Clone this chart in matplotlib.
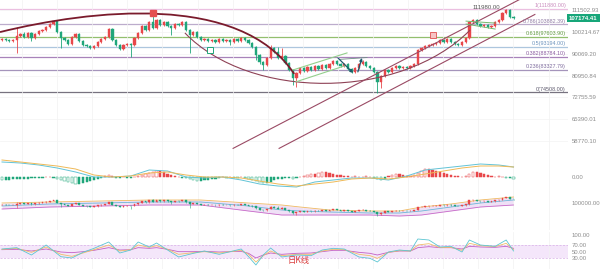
import matplotlib
matplotlib.use('Agg')
import matplotlib.pyplot as plt
import numpy as np
from matplotlib.path import Path
from matplotlib.patches import PathPatch
from matplotlib.ticker import NullLocator
import matplotlib.transforms as mtrans

# ---------------- data (prices in thousands) ----------------
opens_k = [96.3, 96.8, 96.3, 95.8, 96.3, 98.2, 99.2, 97.7, 99.7, 97.3,
           99.2, 100.6, 101.1, 102.6, 104.1, 105.6, 100.1, 97.3, 96.3, 94.5,
           97.7, 99.2, 95.8, 94.0, 93.5, 92.6, 93.5, 95.4, 96.8, 97.7,
           101.6, 96.3, 94.0, 92.2, 94.0, 94.5, 94.0, 97.3, 99.7, 103.1,
           101.1, 105.1, 102.1, 106.2, 103.6, 105.1, 103.1, 102.1, 104.1, 103.6,
           105.1, 101.1, 98.7, 100.1, 97.7, 96.3, 96.8, 95.8, 96.3, 95.4,
           96.8, 95.8, 96.3, 95.4, 96.8, 95.8, 97.3, 96.3, 94.9, 93.1,
           89.5, 86.5, 85.3, 88.2, 92.6, 90.8, 88.2, 89.1, 86.1, 83.2,
           80.0, 82.0, 84.0, 82.8, 84.4, 83.2, 84.9, 83.6, 85.3, 84.0,
           85.7, 87.0, 85.7, 84.9, 85.7, 83.6, 82.4, 84.0, 85.7, 86.5,
           84.9, 84.0, 82.4, 78.5, 80.8, 83.2, 82.4, 84.0, 84.9, 84.0,
           84.4, 84.0, 84.9, 85.7, 91.7, 92.6, 93.5, 94.0, 94.5, 94.9,
           96.3, 95.4, 96.8, 95.4, 94.5, 94.0, 95.4, 97.3, 105.1, 106.2,
           104.1, 103.1, 103.6, 102.6, 103.1, 105.1, 106.2, 109.9, 111.5, 107.7]
highs_k = [97.3, 97.4, 96.9, 96.9, 102.6, 99.8, 99.9, 100.3, 100.2, 99.8,
           101.2, 101.8, 103.2, 104.8, 106.4, 106.2, 100.8, 97.9, 96.8, 98.3,
           99.8, 99.7, 96.3, 94.6, 94.0, 94.1, 95.9, 97.3, 98.3, 102.2,
           102.0, 96.9, 94.5, 94.5, 95.1, 95.0, 97.8, 100.2, 103.7, 103.6,
           105.7, 108.3, 106.8, 106.8, 105.7, 105.6, 103.6, 104.7, 104.6, 105.7,
           105.6, 101.6, 100.6, 100.6, 98.2, 97.3, 97.3, 96.8, 96.8, 97.3,
           97.3, 96.8, 96.8, 97.3, 97.3, 97.8, 97.8, 96.8, 95.4, 93.6,
           90.0, 87.0, 88.7, 94.0, 93.1, 93.1, 92.6, 89.6, 86.6, 83.7,
           82.5, 84.5, 84.5, 84.9, 84.9, 85.4, 85.4, 85.8, 85.8, 86.2,
           87.5, 87.5, 86.2, 86.2, 86.2, 84.1, 84.5, 86.2, 87.2, 87.0,
           85.4, 84.5, 82.9, 81.3, 83.7, 83.7, 84.5, 85.4, 85.4, 84.9,
           84.9, 85.4, 86.2, 92.3, 93.2, 94.1, 94.6, 95.1, 95.5, 96.9,
           96.9, 97.4, 97.3, 95.9, 95.0, 95.9, 97.8, 105.7, 106.8, 106.7,
           104.6, 104.1, 104.1, 103.6, 105.6, 106.8, 110.5, 111.98, 111.8, 108.2]
lows_k = [95.8, 95.8, 95.2, 95.3, 90.4, 97.6, 97.1, 97.2, 95.8, 96.8,
          98.7, 100.0, 100.5, 102.0, 103.5, 99.5, 92.6, 95.6, 93.9, 94.0,
          97.1, 95.2, 93.5, 92.9, 92.0, 92.1, 93.0, 94.9, 96.2, 97.2,
          95.8, 93.5, 91.6, 91.7, 93.5, 88.6, 93.5, 96.8, 99.2, 100.5,
          100.6, 101.5, 101.6, 103.0, 103.0, 102.5, 98.7, 101.6, 103.0, 103.1,
          100.5, 90.4, 98.2, 97.2, 95.8, 95.8, 95.3, 95.3, 94.9, 94.9,
          95.3, 95.3, 94.1, 94.9, 95.3, 95.3, 95.8, 94.4, 92.6, 87.4,
          85.7, 83.2, 84.8, 87.7, 90.2, 87.6, 87.7, 85.5, 82.6, 77.3,
          76.6, 81.5, 82.3, 82.3, 82.7, 82.7, 83.1, 83.1, 83.5, 83.5,
          85.2, 85.2, 84.4, 84.4, 83.1, 81.9, 81.9, 83.5, 85.2, 84.4,
          83.5, 81.9, 74.5, 76.2, 80.3, 81.9, 81.9, 83.5, 83.5, 83.5,
          83.5, 83.5, 84.4, 85.2, 91.2, 92.1, 93.0, 93.5, 94.0, 94.4,
          94.9, 94.9, 94.9, 94.0, 93.5, 93.5, 94.9, 96.8, 104.6, 103.6,
          102.6, 102.6, 102.1, 102.1, 102.6, 104.6, 105.7, 109.3, 107.2, 106.6]
closes_k = [96.8, 96.3, 95.8, 96.3, 98.2, 99.2, 97.7, 99.7, 97.3, 99.2,
            100.6, 101.1, 102.6, 104.1, 105.6, 100.1, 97.3, 96.3, 94.5, 97.7,
            99.2, 95.8, 94.0, 93.5, 92.6, 93.5, 95.4, 96.8, 97.7, 101.6,
            96.3, 94.0, 92.2, 94.0, 94.5, 94.0, 97.3, 99.7, 103.1, 101.1,
            105.1, 102.1, 106.2, 103.6, 105.1, 103.1, 102.1, 104.1, 103.6, 105.1,
            101.1, 98.7, 100.1, 97.7, 96.3, 96.8, 95.8, 96.3, 95.4, 96.8,
            95.8, 96.3, 95.4, 96.8, 95.8, 97.3, 96.3, 94.9, 93.1, 89.5,
            86.5, 85.3, 88.2, 92.6, 90.8, 88.2, 89.1, 86.1, 83.2, 80.0,
            82.0, 84.0, 82.8, 84.4, 83.2, 84.9, 83.6, 85.3, 84.0, 85.7,
            87.0, 85.7, 84.9, 85.7, 83.6, 82.4, 84.0, 85.7, 86.5, 84.9,
            84.0, 82.4, 78.5, 80.8, 83.2, 82.4, 84.0, 84.9, 84.0, 84.4,
            84.0, 84.9, 85.7, 91.7, 92.6, 93.5, 94.0, 94.5, 94.9, 96.3,
            95.4, 96.8, 95.4, 94.5, 94.0, 95.4, 97.3, 105.1, 106.2, 104.1,
            103.1, 103.6, 102.6, 103.1, 105.1, 106.2, 109.9, 111.5, 107.7, 107.17441]

last_price = 107174.41
peak_label = '111980.00'
peak_pos = (131.5, 112700)

price_ticks = [111502.93, 100214.67, 90069.20, 80950.84, 72755.59, 65390.01, 58770.10]

fib_ratios = ['1', '0.786', '0.618', '0.5', '0.382', '0.236', '0']
fib_prices = [111880.00, 103882.39, 97603.90, 93194.00, 88784.10, 83327.79, 74508.00]
fib_line_colors = ['#ebbfe0', '#bcaccc', '#92bf6e', '#adc6de', '#a883ba', '#a594bb', '#77727f']
fib_text_colors = ['#c98bbd', '#8f7aa3', '#5f9a3e', '#6d93bd', '#8a5aa0', '#7f6c9e', '#5a566a']

# drawings (candle index, price)
arc_big_x = [-0.54, 23.9, 64.7, 79.4]
arc_big_y = [100100, 111500, 121800, 81600]
arc_low_x = [49.7, 67.4, 108.2, 127.2]
arc_low_y = [99700, 71600, 71600, 101100]
chan_a_x, chan_a_y = [62.8, 141.3], [56700, 118100]
chan_b_x, chan_b_y = [75.3, 144.8], [56700, 109100]
small_up_x, small_up_y = [79.1, 93.75], [83200, 90400]
small_lo_x, small_lo_y = [79.9, 93.2], [78500, 84900]
flat_x, flat_y = [91.8, 99.2], [87600, 88400]
wedge_up_x, wedge_up_y = [126.1, 134.0], [105600, 104600]
wedge_lo_x, wedge_lo_y = [126.1, 134.0], [104100, 101600]
arrow_down = ((91.3, 88200), (95.4, 82000))
arrow_up = ((96.7, 82400), (97.8, 88200))
mark_red = (41, 109900)
mark_pink = (117.1, 98700)
mark_green = (56.5, 91700)

# MACD
macd_x = [0, 5, 10, 15, 20, 25, 30, 35, 40, 45, 50, 55, 60, 65, 70, 75, 80, 85, 90, 95,
          100, 105, 110, 115, 120, 125, 130, 135, 139]
dea = [3400, 3000, 2600, 2200, 1600, 400, 0, 200, 800, 1000, 400, 0, 0, -200, -800, -1400,
       -1800, -1400, -1000, -400, -200, -400, 0, 600, 1200, 1800, 2200, 2200, 2000]
dif = [3000, 2800, 2400, 1800, 1000, 0, 0, 200, 1400, 1200, 0, -200, 0, -600, -1400, -1800,
       -2000, -1000, -600, -200, -200, -600, 200, 1400, 1800, 2200, 2600, 2400, 2000]
hist = [-600, -600, -600, -400, -400, -400, -400, -400, -200, -200,
        -100, -100, 100, 100, -100,
        -400, -600, -800, -1000, -1200, -1400, -1400, -1200, -1000, -800, -600, -400, -200,
        200, 400, 200,
        -200, -100, 100, -100, -100, 100,
        200, 400, 600, 800, 1000, 1200, 1200, 1000, 600, 400,
        200, 100, -100, -200,
        -400, -600, -800, -800, -600, -600, -400, -400, -200,
        100, -100, 100, -100, -200, 100, -200,
        -400, -600, -800, -1000, -1200, -1200, -1000, -600, -400,
        -400, -200, -200, -400, -200, 100,
        200, 400, 600, 600, 800, 1000, 1000, 800, 600, 400, 400, 200,
        200, 100, 200, 100, 100, 200, 100,
        -200, -400, -600, -400,
        200, 400, 600, 600, 400, 200, 200,
        400, 800, 1200, 1600, 1600, 1400, 1200, 1000, 800, 600, 400,
        200, 200, 100, 200,
        600, 1000, 1000, 800, 600, 400, 200,
        100, 200, 100, -200, -200, -400]

# BOLL
boll_x = [0, 13, 27, 40, 54, 67, 76, 81, 89, 100, 108, 114, 122, 130, 139]
boll_up = [100000, 102000, 104000, 106000, 106000, 100000, 96000, 92000, 86000, 84000,
           84000, 92000, 98000, 106000, 112000]
boll_mid = [94000, 98000, 100000, 102000, 102000, 94000, 86000, 84000, 82000, 80000,
            80000, 84000, 92000, 100000, 106000]
boll_lo = [88000, 92000, 94000, 96000, 96000, 84000, 76000, 76000, 76000, 76000,
           74000, 76000, 84000, 92000, 96000]

# RSI
rsi_x = [0, 4, 8, 12, 16, 19, 22, 25, 29, 32, 35, 37, 40, 42, 45, 48, 52, 55, 59, 62, 65, 67,
         69, 71, 73, 76, 80, 84, 87, 90, 93, 97, 100, 102, 105, 108, 111, 113, 116, 119, 122,
         125, 127, 130, 134, 137, 139]
rsi6 = [58, 62, 40, 70, 35, 31, 48, 60, 79, 46, 55, 79, 64, 76, 55, 34, 45, 52, 42, 50, 58, 35,
        10, 40, 61, 34, 40, 38, 55, 60, 58, 34, 30, 19, 49, 55, 52, 88, 85, 64, 66, 49, 85, 70,
        66, 85, 52]
rsi12 = [57, 60, 48, 64, 42, 36, 46, 56, 70, 52, 56, 70, 63, 68, 57, 42, 47, 50, 46, 50, 54, 42,
         19, 38, 52, 38, 42, 42, 52, 57, 56, 42, 38, 30, 48, 53, 52, 70, 74, 62, 63, 54, 75, 68,
         65, 75, 56]
rsi24 = [56, 57, 52, 58, 49, 47, 50, 54, 62, 55, 56, 62, 60, 62, 57, 50, 50, 51, 49, 50, 51, 45,
         31, 40, 46, 42, 45, 46, 50, 54, 54, 48, 45, 40, 48, 52, 52, 62, 65, 62, 62, 58, 66, 64,
         63, 66, 60]
rsi_ticks = [100, 70, 50, 30]

# ---------------- drawing ----------------
plt.rcParams['font.family'] = ['Liberation Sans', 'DejaVu Sans']
W, H = 600, 269
fig = plt.figure(figsize=(6.0, 2.69), dpi=100)
fig.patch.set_facecolor('white')

RED = '#e8474a'
GREEN = '#1fa67a'
LBL = '#8c8c8c'
FS = 4.3

o = np.array(opens_k) * 1000
h = np.array(highs_k) * 1000
l = np.array(lows_k) * 1000
c = np.array(closes_k) * 1000
idx = np.arange(len(c))
cols = np.where(c >= o, RED, GREEN)
XL = (-0.54, 153.8)
grid_x = np.arange(5.43, 154, 9.54)


def add_ax(top_px, bot_px):
    return fig.add_axes([0, 1 - bot_px / H, 568 / W, (bot_px - top_px) / H])


def style(ax):
    for s in ax.spines.values():
        s.set_visible(False)
    ax.set_facecolor('none')
    ax.set_xticks(grid_x)
    ax.tick_params(axis='x', length=0, labelbottom=False)
    ax.yaxis.tick_right()
    ax.tick_params(axis='y', which='both', length=0, pad=2.5, labelsize=FS, labelcolor=LBL)
    ax.grid(axis='x', color='#f1f1f1', lw=0.5, zorder=0)


def candles(ax, lw=0.6, width=0.62):
    ax.vlines(idx, l, h, colors=cols, lw=lw, zorder=3)
    ax.bar(idx, np.abs(c - o), bottom=np.minimum(o, c), width=width, color=cols,
           edgecolor=cols, lw=0.3, zorder=4)


# main pane
ax = add_ax(0, 150)
style(ax)
ax.set_yscale('log')
ax.set_ylim(56250, 117090)
ax.set_xlim(*XL)
ax.yaxis.set_minor_locator(NullLocator())
ax.set_yticks(price_ticks)
ax.set_yticklabels(['%.2f' % v for v in price_ticks])
ax.grid(axis='y', color='#f3f3f3', lw=0.5, zorder=0)

bt = mtrans.blended_transform_factory(ax.transAxes, ax.transData)
for r, p, lc, tc in zip(fib_ratios, fib_prices, fib_line_colors, fib_text_colors):
    ax.axhline(p, color=lc, lw=0.9, zorder=1)
    ax.text(566 / 568, p * 1.004, '%s(%.2f)' % (r, p), transform=bt, ha='right', va='bottom',
            fontsize=3.9, color=tc, zorder=6)

candles(ax)


def bez(ax, xs, ys, color, lw):
    path = Path(list(zip(xs, ys)), [Path.MOVETO, Path.CURVE4, Path.CURVE4, Path.CURVE4])
    ax.add_patch(PathPatch(path, fill=False, ec=color, lw=lw, zorder=5))


bez(ax, arc_big_x, arc_big_y, '#7a1b2c', 1.3)
bez(ax, arc_low_x, arc_low_y, '#8e4155', 0.8)
ax.plot(chan_a_x, chan_a_y, color='#9a4a64', lw=0.8, zorder=5)
ax.plot(chan_b_x, chan_b_y, color='#9a4a64', lw=0.8, zorder=5)
ax.plot(small_up_x, small_up_y, color='#93cf8c', lw=0.8, zorder=5)
ax.plot(small_lo_x, small_lo_y, color='#93cf8c', lw=0.8, zorder=5)
ax.plot(flat_x, flat_y, color='#6f8f86', lw=0.6, zorder=5)
ax.plot(wedge_up_x, wedge_up_y, color='#74b86e', lw=0.7, zorder=5)
ax.plot(wedge_lo_x, wedge_lo_y, color='#74b86e', lw=0.7, zorder=5)
for (start, end) in (arrow_down, arrow_up):
    ax.annotate('', xy=end, xytext=start,
                arrowprops=dict(arrowstyle='-|>', color='#1d5b6b', lw=0.9,
                                mutation_scale=4, shrinkA=0, shrinkB=0), zorder=6)
ax.plot(*mark_red, marker='s', ms=4.6, mfc='#e45050', mec='#e45050', zorder=7)
ax.plot(*mark_pink, marker='s', ms=4.6, mfc='#f6c4c4', mec='#e05050', mew=0.6, zorder=7)
ax.plot(*mark_green, marker='s', ms=4.6, mfc='white', mec='#1fa67a', mew=0.7, zorder=7)
ax.text(*peak_pos, peak_label, fontsize=FS, color='#555555', ha='center', va='center', zorder=6)
ax.text(1.002, last_price, '%.2f' % last_price, transform=bt, fontsize=FS, color='white',
        ha='left', va='center', fontweight='bold',
        bbox=dict(boxstyle='square,pad=0.3', fc='#17a679', ec='none'), zorder=8, clip_on=False)
ax.set_xlim(*XL)

# MACD pane
axm = add_ax(150, 190)
style(axm)
axm.set_xlim(*XL)
axm.set_ylim(-2600, 5400)
axm.set_yticks([0])
axm.set_yticklabels(['0.00'])
hv = np.array(hist, dtype=float)
prev = np.concatenate([[0.0], hv[:-1]])
hollow = np.abs(hv) > np.abs(prev)
hc = np.where(hv >= 0, RED, GREEN)
fc = np.where(hollow, 'white', hc)
axm.bar(idx, hv, width=0.6, color=fc, edgecolor=hc, lw=0.35, zorder=3)
axm.plot(macd_x, dif, color='#62c3d6', lw=0.7, zorder=4)
axm.plot(macd_x, dea, color='#efb957', lw=0.7, zorder=4)

# BOLL pane
axb = add_ax(190, 230)
style(axb)
axb.set_xlim(*XL)
axb.set_ylim(46000, 126000)
axb.set_yticks([100000])
axb.set_yticklabels(['100000.00'])
axb.fill_between(boll_x, boll_lo, boll_up, color='#efe0f6', lw=0, zorder=1)
axb.plot(boll_x, boll_up, color='#efb860', lw=0.6, zorder=2)
axb.plot(boll_x, boll_mid, color='#6db6d8', lw=0.6, zorder=2)
axb.plot(boll_x, boll_lo, color='#c86ac8', lw=0.6, zorder=2)
candles(axb, lw=0.4, width=0.5)

# RSI pane
axr = add_ax(232, 269)
style(axr)
axr.set_xlim(*XL)
axr.set_ylim(-2, 109)
axr.set_yticks(rsi_ticks)
axr.set_yticklabels(['%.2f' % v for v in rsi_ticks])
axr.axhspan(30, 70, color='#f4e6fa', lw=0, zorder=1)
for v in (30, 70):
    axr.axhline(v, color='#d7aee6', lw=0.5, ls=(0, (3, 2)), zorder=2)
axr.plot(rsi_x, rsi24, color='#c25fc4', lw=0.6, zorder=3)
axr.plot(rsi_x, rsi12, color='#efbd6a', lw=0.6, zorder=3)
axr.plot(rsi_x, rsi6, color='#5cc6d2', lw=0.6, zorder=3)

fig.text(299 / W, 1 - 261 / H, '日K线', color='#d93a3a', fontsize=6, ha='center', va='center',
         family=['Noto Sans CJK SC', 'DejaVu Sans'])

fig.savefig('out.png', dpi=100)
